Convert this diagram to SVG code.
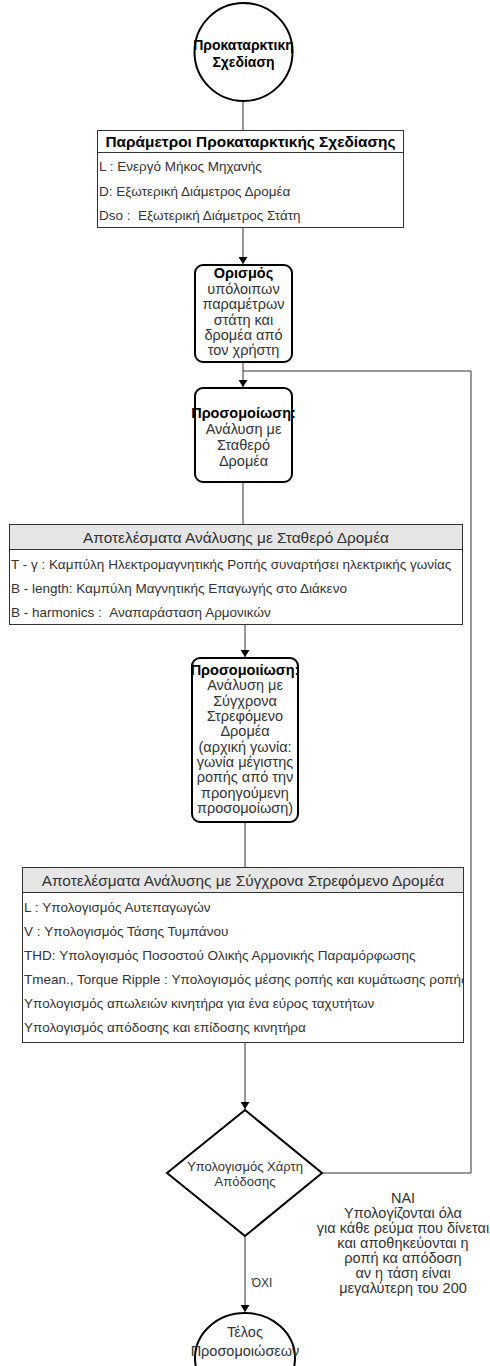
<svg xmlns="http://www.w3.org/2000/svg" width="490" height="1366" viewBox="0 0 490 1366">
<style>
.bg{fill:#ffffff}
.shape{fill:#ffffff;stroke:#000000;stroke-width:2}
.tbl{fill:#ffffff;stroke:#333333;stroke-width:1}
.hdr{fill:#e6e6e6;stroke:#333333;stroke-width:1}
.edge{fill:none;stroke:#333333;stroke-width:1}
text{font-family:"Liberation Sans",Arial,sans-serif;font-size:14.5px;fill:#333333}
.c{text-anchor:middle}
.b{font-weight:bold;fill:#000000}
.r{font-size:13.5px}
.h{font-size:15.4px}
.hb{font-size:15.4px;font-weight:bold;fill:#000000}
.d{font-size:13px}
</style>
<defs>
<marker id="arr" markerUnits="userSpaceOnUse" markerWidth="8" markerHeight="9" refX="7" refY="4.5" orient="auto">
<path d="M0,0 L7,4.5 L0,9 Z" fill="#000000"/>
</marker>
<clipPath id="clip3"><rect x="22" y="867" width="441" height="175"/></clipPath>
</defs>
<rect class="bg" x="0" y="0" width="490" height="1366"/>

<g id="connectors">
<line class="edge" x1="243" y1="101" x2="243" y2="130"/>
<line class="edge" x1="243" y1="227" x2="243" y2="264" marker-end="url(#arr)"/>
<line class="edge" x1="243" y1="362" x2="243" y2="387" marker-end="url(#arr)"/>
<line class="edge" x1="243" y1="482" x2="243" y2="524"/>
<line class="edge" x1="245" y1="624" x2="245" y2="657" marker-end="url(#arr)"/>
<line class="edge" x1="245" y1="822" x2="245" y2="867"/>
<line class="edge" x1="245" y1="1042" x2="245" y2="1109" marker-end="url(#arr)"/>
<polyline class="edge" points="322,1173 471,1173 471,371 243,371"/>
<line class="edge" x1="245" y1="1236" x2="245" y2="1312" marker-end="url(#arr)"/>
<text x="262" y="1287" class="c" style="font-size:12px">ΌΧΙ</text>
<text class="c" x="403" y="1203">ΝΑΙ</text>
<text class="c" x="403" y="1218">Υπολογίζονται όλα</text>
<text class="c" x="403" y="1233">για κάθε ρεύμα που δίνεται</text>
<text class="c" x="403" y="1248">και αποθηκεύονται η</text>
<text class="c" x="403" y="1263">ροπή κα απόδοση</text>
<text class="c" x="403" y="1278">αν η τάση είναι</text>
<text class="c" x="403" y="1293">μεγαλύτερη του 200</text>
</g>

<g id="start">
<circle class="shape" cx="243.5" cy="52" r="49"/>
<text class="c b" x="243.5" y="50" style="font-size:14px">Προκαταρκτικη</text>
<text class="c b" x="243.5" y="67" style="font-size:14px">Σχεδίαση</text>
</g>

<g id="params">
<rect class="tbl" x="97.5" y="130.5" width="306" height="97"/>
<line class="edge" x1="97.5" y1="152.5" x2="403.5" y2="152.5"/>
<text class="c hb" x="250.5" y="147">Παράμετροι Προκαταρκτικής Σχεδίασης</text>
<text class="r" x="99" y="171">L : Ενεργό Μήκος Μηχανής</text>
<text class="r" x="99" y="196">D: Εξωτερική Διάμετρος Δρομέα</text>
<text class="r" x="99" y="220" xml:space="preserve">Dso :  Εξωτερική Διάμετρος Στάτη</text>
</g>

<g id="define">
<rect class="shape" x="195" y="265" width="97" height="97" rx="8"/>
<text class="c b" x="243.5" y="278">Ορισμός</text>
<text class="c" x="243.5" y="294">υπόλοιπων</text>
<text class="c" x="243.5" y="309">παραμέτρων</text>
<text class="c" x="243.5" y="325">στάτη και</text>
<text class="c" x="243.5" y="340">δρομέα από</text>
<text class="c" x="243.5" y="355">τον χρήστη</text>
</g>

<g id="sim1">
<rect class="shape" x="195" y="388" width="97" height="94" rx="8"/>
<text class="c b" x="243.5" y="418">Προσομοίωση:</text>
<text class="c" x="243.5" y="434">Ανάλυση με</text>
<text class="c" x="243.5" y="450">Σταθερό</text>
<text class="c" x="243.5" y="466">Δρομέα</text>
</g>

<g id="results1">
<rect class="tbl" x="9.5" y="524.5" width="453" height="100"/>
<rect class="hdr" x="9.5" y="524.5" width="453" height="25"/>
<text class="c h" x="236" y="543">Αποτελέσματα Ανάλυσης με Σταθερό Δρομέα</text>
<text class="r" x="11" y="569">T - γ : Καμπύλη Ηλεκτρομαγνητικής Ροπής συναρτήσει ηλεκτρικής γωνίας</text>
<text class="r" x="11" y="593">B - length: Καμπύλη Μαγνητικής Επαγωγής στο Διάκενο</text>
<text class="r" x="11" y="617" xml:space="preserve">B - harmonics :  Αναπαράσταση Αρμονικών</text>
</g>

<g id="sim2">
<rect class="shape" x="192" y="658" width="106" height="164" rx="8"/>
<text class="c b" x="245" y="675">Προσομοιίωση:</text>
<text class="c" x="245" y="690">Ανάλυση με</text>
<text class="c" x="245" y="706">Σύγχρονα</text>
<text class="c" x="245" y="721">Στρεφόμενο</text>
<text class="c" x="245" y="736">Δρομέα</text>
<text class="c" x="245" y="752">(αρχική γωνία:</text>
<text class="c" x="245" y="767">γωνία μέγιστης</text>
<text class="c" x="245" y="782">ροπής από την</text>
<text class="c" x="245" y="798">προηγούμενη</text>
<text class="c" x="245" y="813">προσομοίωση)</text>
</g>

<g id="results2">
<rect class="tbl" x="22.5" y="867.5" width="441" height="175"/>
<rect class="hdr" x="22.5" y="867.5" width="441" height="25"/>
<text class="c h" x="243" y="886">Αποτελέσματα Ανάλυσης με Σύγχρονα Στρεφόμενο Δρομέα</text>
<g clip-path="url(#clip3)">
<text class="r" x="24" y="912">L : Υπολογισμός Αυτεπαγωγών</text>
<text class="r" x="24" y="936">V : Υπολογισμός Τάσης Τυμπάνου</text>
<text class="r" x="24" y="960">THD: Υπολογισμός Ποσοστού Ολικής Αρμονικής Παραμόρφωσης</text>
<text class="r" x="24" y="984">Tmean., Torque Ripple : Υπολογισμός μέσης ροπής και κυμάτωσης ροπής</text>
<text class="r" x="24" y="1008">Υπολογισμός απωλειών κινητήρα για ένα εύρος ταχυτήτων</text>
<text class="r" x="24" y="1032">Υπολογισμός απόδοσης και επίδοσης κινητήρα</text>
</g>
</g>

<g id="decision">
<polygon class="shape" points="245,1110 322,1173 245,1236 167,1173"/>
<text class="c d" x="245" y="1171">Υπολογισμός Χάρτη</text>
<text class="c d" x="245" y="1186">Απόδοσης</text>
</g>

<g id="end">
<ellipse class="shape" cx="245" cy="1358" rx="50" ry="45"/>
<text class="c" x="245" y="1337">Τέλος</text>
<text class="c" x="245" y="1356">Προσομοιώσεων</text>
</g>
</svg>
